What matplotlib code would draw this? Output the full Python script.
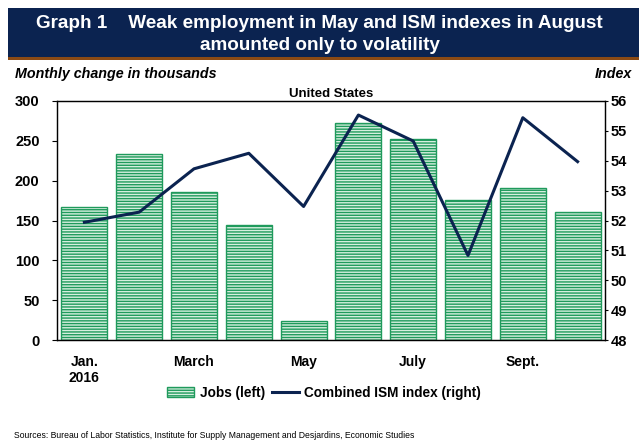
import numpy as np
import matplotlib.pyplot as plt
from matplotlib.patches import Rectangle

plt.rcParams['font.family'] = ['Liberation Sans', 'DejaVu Sans']
plt.rcParams['hatch.linewidth'] = 1.0
plt.rcParams['hatch.color'] = '#1f9a5c'

months = ['Jan.\n2016', '', 'March', '', 'May', '', 'July', '', 'Sept.', '']
jobs = [167, 233, 186, 144, 24, 272, 252, 176, 191, 161]
ism = [51.94, 52.28, 53.73, 54.25, 52.47, 55.53, 54.66, 50.83, 55.44, 53.97]

navy = '#0b2350'

fig = plt.figure(figsize=(6.39, 4.41), dpi=100)

# title banner
fig.patches.append(Rectangle((8/639, 1 - 57/441), 1 - 8/639, 49/441, transform=fig.transFigure,
                             facecolor=navy, edgecolor='none', zorder=0))
fig.patches.append(Rectangle((8/639, 1 - 60/441), 1 - 8/639, 3/441, transform=fig.transFigure,
                             facecolor='#8b4a14', edgecolor='none', zorder=0))
fig.text(0.5, 1 - 23/441, 'Graph 1    Weak employment in May and ISM indexes in August',
         color='white', fontsize=13.6, fontweight='bold', ha='center', va='center')
fig.text(0.5, 1 - 45/441, 'amounted only to volatility',
         color='white', fontsize=13.6, fontweight='bold', ha='center', va='center')

fig.text(15/639, 1 - 74/441, 'Monthly change in thousands', fontsize=10.3, fontweight='bold',
         style='italic', ha='left', va='center')
fig.text(632/639, 1 - 74/441, 'Index', fontsize=10.3, fontweight='bold',
         style='italic', ha='right', va='center')

ax = fig.add_axes([57/639, 1 - 340/441, 548/639, 239/441])
x = np.arange(len(jobs))
ax.bar(x, jobs, width=0.84, facecolor='#d6efdf', edgecolor='#1f9a5c', linewidth=1.0,
       hatch='------', label='Jobs (left)', zorder=2)
ax.set_xlim(-0.5, 9.5)
ax.set_ylim(0, 300)
ax.set_yticks(np.arange(0, 301, 50))
ax.set_xticks(x)
ax.set_xticklabels(months, fontsize=10, fontweight='bold', linespacing=1.15)
ax.tick_params(axis='x', length=0, pad=11)
ax.tick_params(axis='y', labelsize=10.5, length=3.6, pad=9, direction='out')
for lab in ax.get_yticklabels():
    lab.set_fontweight('bold')
ax.set_title('United States', fontsize=9.5, fontweight='bold', pad=3)
for s in ax.spines.values():
    s.set_color('#222222')
    s.set_linewidth(1.0)

ax2 = ax.twinx()
ax2.plot(x, ism, color=navy, linewidth=2.2, label='Combined ISM index (right)', zorder=3)
ax2.set_ylim(48, 56)
ax2.set_yticks(np.arange(48, 57, 1))
ax2.tick_params(axis='y', labelsize=10.5, length=2.5, pad=1.5, direction='out')
for lab in ax2.get_yticklabels():
    lab.set_fontweight('bold')

h1, l1 = ax.get_legend_handles_labels()
h2, l2 = ax2.get_legend_handles_labels()
leg = fig.legend(h1 + h2, l1 + l2, loc='center', bbox_to_anchor=(324/639, 1 - 393/441), ncol=2,
                 frameon=False, prop={'weight': 'bold', 'size': 9.8}, handlelength=2.0,
                 handletextpad=0.4, columnspacing=0.5)

fig.text(14/639, 1 - 436/441, 'Sources: Bureau of Labor Statistics, Institute for Supply Management and Desjardins, Economic Studies',
         fontsize=6.2, ha='left', va='center')

fig.savefig('out.png', dpi=100)
